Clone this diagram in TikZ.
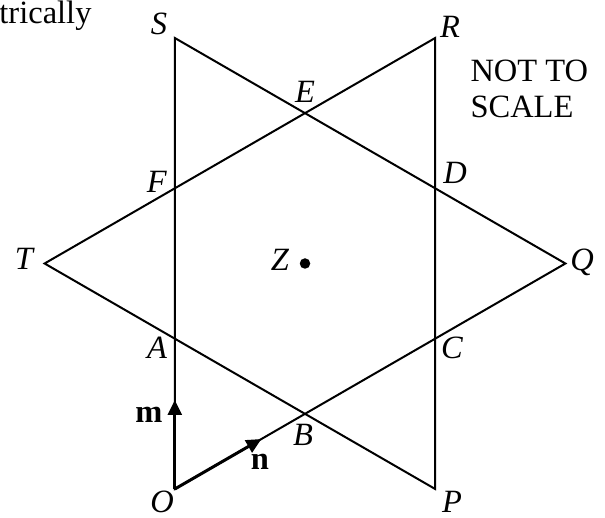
\documentclass[tikz,border=0pt]{standalone}
\usepackage{fontspec}
\setmainfont{Liberation Serif}
\usetikzlibrary{arrows.meta}
\begin{document}
\begin{tikzpicture}[x=0.4pt, y=0.4pt, every node/.style={font=\fontsize{13}{14.4}\selectfont, inner sep=0pt}]
  \useasboundingbox (-305,-254.5) rectangle (300,263.5);
  \coordinate (Z) at (0,0);
  \coordinate (T) at (180:260.4);
  \coordinate (R) at (60:260.4);
  \coordinate (P) at (-60:260.4);
  \coordinate (S) at (120:260.4);
  \coordinate (Q) at (0:260.4);
  \coordinate (O) at (-120:260.4);
  \draw[thick] (T) -- (R) -- (P) -- cycle;
  \draw[thick] (S) -- (Q) -- (O) -- cycle;
  \fill (Z) circle (2.1pt);
  % the two vectors from O
  \coordinate (mtip) at (-130.2,-136.5);
  \coordinate (ntip) at (-43.6,-175.5);
  \draw[very thick, -{Triangle[length=6pt, width=5.5pt]}] (O) -- (mtip);
  \draw[very thick, -{Triangle[length=6pt, width=5.5pt]}] (O) -- (ntip);
  \node (lS) at (-146,239.5) {\textit{S}};
  \node (lR) at (145,236.5)  {\textit{R}};
  \node (lE) at (0,171.5)    {\textit{E}};
  \node (lF) at (-148,81.5)  {\textit{F}};
  \node (lD) at (150,90.5)   {\textit{D}};
  \node (lT) at (-280,4.5)   {\textit{T}};
  \node (lQ) at (277,1.5)    {\textit{Q}};
  \node (lZ) at (-25,3.5)    {\textit{Z}};
  \node (lA) at (-148,-84.5) {\textit{A}};
  \node (lC) at (147,-84.5)  {\textit{C}};
  \node (lB) at (-2,-171.5)  {\textit{B}};
  \node (lO) at (-143,-238)  {\textit{O}};
  \node (lP) at (147,-238)   {\textit{P}};
  \node (lm) at (-156,-151.5){\textbf{m}};
  \node (ln) at (-45,-198.5) {\textbf{n}};
  \node (note) [anchor=west, align=left] at (165,174.5) {NOT TO\\SCALE};
  \node (cut) [anchor=base east] at (-213,240) {trically};
\end{tikzpicture}
\end{document}
